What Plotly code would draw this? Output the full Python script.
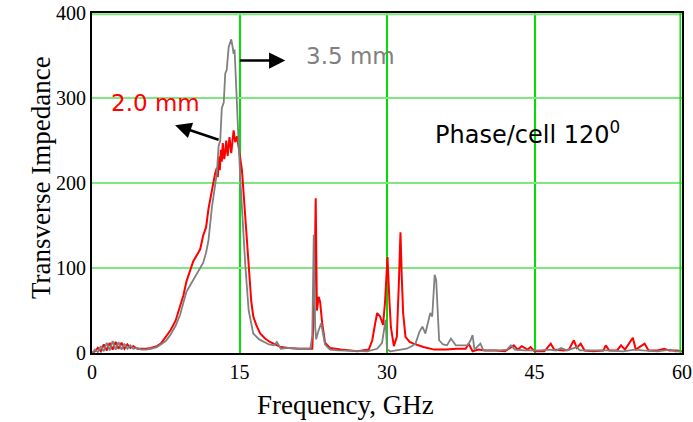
import plotly.graph_objects as go

# 2.0 mm iris (red)
freq_20 = [0, 0.3, 0.6, 0.9, 1.2, 1.5, 1.8, 2.1, 2.4, 2.7, 3.0, 3.3, 3.6, 3.9, 4.2, 4.6, 5.0, 5.5, 6.0, 6.6,
           7.0, 7.6, 8.0, 8.5, 8.96, 9.3, 9.6, 10.0, 10.3, 10.7, 11.0, 11.3, 11.6, 11.85, 12.0, 12.2, 12.5, 12.7,
           12.8, 12.87, 13.0, 13.1, 13.2, 13.3, 13.45, 13.55, 13.65, 13.8, 13.98, 14.16, 14.3, 14.4, 14.57, 14.75,
           14.9, 15.07, 15.25, 15.6, 15.93, 16.2, 16.4, 16.7, 17.1, 17.6, 18.1, 18.6, 19.2, 20, 21, 22.0, 22.4,
           22.6, 22.75, 22.87, 23.05, 23.2, 23.4, 23.7, 24.2, 25.3, 27, 28.15, 28.5, 28.8, 29.0, 29.3, 29.6, 29.8,
           30.05, 30.25, 30.4, 30.7, 31.0, 31.2, 31.37, 31.5, 31.64, 31.88, 32.3, 32.7, 33.7, 34.8, 36, 37.1, 38.0,
           38.3, 38.7, 39.3, 40, 41, 42, 42.9, 43.3, 43.7, 44.3, 44.6, 45.0, 46, 46.65, 47.0, 48.0, 48.5, 49.0,
           49.3, 49.7, 50.1, 51, 52.0, 52.25, 52.6, 53.4, 53.8, 54.2, 55.0, 55.3, 56.2, 56.6, 57.5, 58.2, 58.7,
           59.5, 60]
imp_20 = [0, 2, 6, 2, 10, 3, 12, 4, 13, 5, 12, 5, 10, 6, 8, 5, 5, 5, 6, 8,
          11, 20, 27, 38, 54, 68, 84, 98, 108, 116, 122, 138, 148, 170, 180, 192, 210, 218,
          207, 231, 215, 239, 225, 247, 228, 236, 250, 232, 254, 235, 250, 262, 248, 255,
          243, 228, 215, 158, 100, 60, 43, 33, 23, 17, 13, 10, 7, 6, 5, 5, 5,
          60, 182, 50, 66, 60, 36, 12, 6, 4, 2, 4, 15, 35, 47, 43, 33, 60,
          113, 60, 30, 8, 19, 80, 142, 90, 47, 19, 13, 11, 7, 4, 4, 5, 5,
          11, 2, 4, 3, 3, 2, 9, 4, 8, 4, 7, 2, 2, 11, 4, 3, 4, 15,
          6, 11, 3, 2, 3, 9, 3, 3, 9, 4, 18, 4, 11, 3, 3, 5, 3,
          3, 2]

# 3.5 mm iris (gray)
freq_35 = [0, 0.3, 0.6, 0.9, 1.2, 1.5, 1.8, 2.1, 2.4, 2.7, 3.0, 3.3, 3.6, 3.9, 4.2, 4.6, 5.0, 5.5, 6.0, 6.6,
           7.0, 7.5, 7.95, 8.5, 8.96, 9.3, 9.6, 10.0, 10.3, 10.8, 11.3, 11.6, 11.85, 12.2, 12.5, 12.7, 12.87,
           13.04, 13.2, 13.4, 13.55, 13.7, 13.9, 14.05, 14.16, 14.3, 14.4, 14.5, 14.57, 14.74, 14.9, 15.07,
           15.25, 15.58, 15.93, 16.4, 17.0, 17.45, 18.0, 18.5, 18.8, 19.2, 20, 21, 22.2, 22.4, 22.55, 22.7,
           22.8, 23.0, 23.3, 23.7, 24.2, 25, 27, 28, 29.0, 29.5, 29.85, 30.0, 30.35, 31, 32.0, 32.5, 32.9,
           33.3, 33.6, 33.9, 34.2, 34.4, 34.6, 34.85, 35.0, 35.2, 35.3, 35.7, 36.1, 36.5, 37.0, 38.2, 38.5,
           38.7, 38.9, 39.5, 39.8, 40.5, 41.5, 42.2, 42.6, 43, 44, 45.5, 46.5, 47.2, 47.7, 48.3, 49.3, 49.6,
           51, 52.5, 54, 55.2, 56, 57.5, 58.8, 59.3, 60]
imp_35 = [0, 4, 1, 8, 2, 12, 3, 14, 4, 13, 4, 11, 5, 9, 5, 6, 4, 4, 5, 7,
          10, 14, 21, 32, 45, 58, 72, 80, 86, 95, 106, 118, 133, 172, 195, 212, 243,
          250, 288, 295, 329, 333, 360, 364, 369, 360, 352, 357, 341, 301, 250, 207,
          170, 105, 50, 23, 16, 13, 10, 9, 13, 5, 6, 5, 5, 20, 139, 30,
          16, 25, 35, 10, 4, 3, 2, 2, 5, 12, 39, 4, 2, 3, 5, 8, 11,
          25, 31, 23, 40, 47, 43, 92, 86, 40, 15, 10, 9, 17, 9, 9, 15,
          21, 4, 11, 3, 3, 3, 4, 9, 4, 3, 3, 4, 3, 6, 3, 7, 3,
          3, 3, 2, 4, 3, 2, 4, 2, 2]

x_ticks = [0, 15, 30, 45, 60]
y_ticks = [0, 100, 200, 300, 400]

fig = go.Figure()
fig.add_trace(go.Scatter(x=freq_20, y=imp_20, mode="lines", line=dict(color="#ff0000", width=2),
                         showlegend=False, hoverinfo="skip"))
fig.add_trace(go.Scatter(x=freq_35, y=imp_35, mode="lines", line=dict(color="#808080", width=1.8),
                         showlegend=False, hoverinfo="skip"))

serif = "Liberation Serif, Times New Roman, serif"
sans = "DejaVu Sans, sans-serif"

fig.update_layout(
    width=693, height=422,
    margin=dict(l=92, r=11, t=13, b=69),
    paper_bgcolor="white", plot_bgcolor="white",
    xaxis=dict(range=[0, 60], tickvals=x_ticks, ticktext=[str(v) for v in x_ticks],
               showgrid=True, gridcolor="#00e000", gridwidth=1.5, zeroline=False,
               showline=True, linecolor="black", linewidth=2, mirror=True, automargin=False,
               ticks="", tickfont=dict(family=serif, size=20, color="black")),
    yaxis=dict(range=[0, 400], tickvals=y_ticks, ticktext=[str(v) for v in y_ticks],
               showgrid=True, gridcolor="#7ee87e", gridwidth=2, zeroline=False,
               showline=True, linecolor="black", linewidth=2, mirror=True, automargin=False,
               ticks="", tickfont=dict(family=serif, size=20, color="black")),
    shapes=[
        dict(type="line", xref="paper", yref="paper", x0=0, x1=1, y0=0.996, y1=0.996,
             line=dict(color="#7ee87e", width=2)),
        dict(type="line", xref="paper", yref="paper", x0=0.997, x1=0.997, y0=0, y1=1,
             line=dict(color="#00e000", width=1.5)),
    ],
    annotations=[
        dict(text="Transverse Impedance", xref="paper", yref="paper", x=-0.115, y=0.515,
             textangle=-90, showarrow=False, font=dict(family=serif, size=27, color="black")),
        dict(text="Frequency, GHz", xref="paper", yref="paper", x=0.429, y=-0.153,
             showarrow=False, yanchor="middle", font=dict(family=serif, size=27, color="black")),
        dict(text="3.5 mm", x=26.3, y=350, xref="x", yref="y", showarrow=False,
             font=dict(family=sans, size=23, color="#808080")),
        dict(text="2.0 mm", x=6.5, y=294, xref="x", yref="y", showarrow=False,
             font=dict(family=sans, size=23, color="#ff0000")),
        dict(text="Phase/cell 120<sup>0</sup>", x=34.7, y=259, xref="x", yref="y", showarrow=False,
             xanchor="left", font=dict(family=sans, size=24, color="black")),
        dict(text="", x=19.66, y=344, xref="x", yref="y", ax=-47, ay=0, showarrow=True,
             arrowhead=2, arrowsize=1.3, arrowwidth=2.5, arrowcolor="black"),
        dict(text="", x=8.45, y=268, xref="x", yref="y", ax=45, ay=15, showarrow=True,
             arrowhead=2, arrowsize=1.3, arrowwidth=2.5, arrowcolor="black"),
    ],
)

fig.write_html("out.html", config={"displayModeBar": False},
               post_script="document.body.style.margin='0';")
